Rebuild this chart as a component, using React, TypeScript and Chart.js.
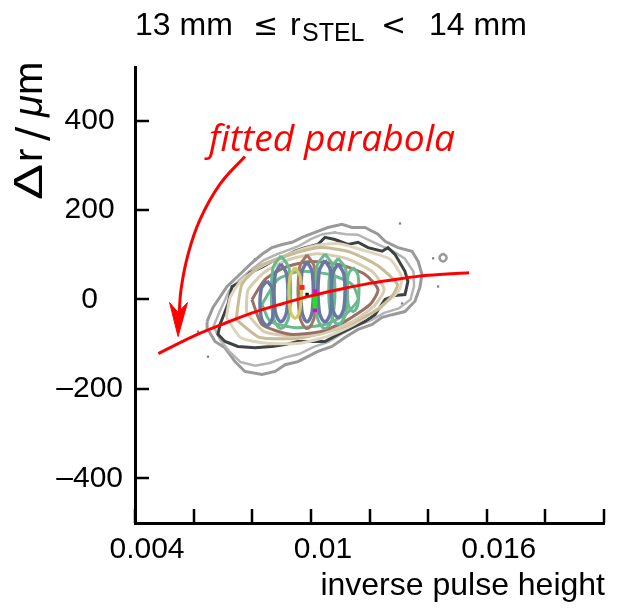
import React, { useEffect, useRef } from 'react';
import { Chart, registerables } from 'chart.js';

Chart.register(...registerables);

// ---- axis ranges & tick values ----
const xMin = 0.004;
const xMax = 0.02;
const xTickValues = [0.004, 0.006, 0.008, 0.01, 0.012, 0.014, 0.016, 0.018, 0.02];
const xTickLabels = [0.004, 0.01, 0.016];
const yMin = -500;
const yMax = 520;
const yTickValues = [-400, -200, 0, 200, 400];

// ---- fitted parabola ----
const parabolaX = [0.0048, 0.006, 0.007, 0.008, 0.009, 0.01, 0.011, 0.012, 0.013, 0.014, 0.0154];
const parabolaY = [-121, -82, -55, -30, -10, 8, 23, 36, 46, 54, 60];

// ---- annotation arrow ----
const arrowX = [0.00775, 0.0069, 0.00622, 0.00581, 0.00557, 0.0055];
const arrowY = [320, 258, 179, 101, 22, -45];
const arrowHead = [[0.00547, -83], [0.00518, -7], [0.00547, -29], [0.00579, -7]];
const annotationText = 'fitted parabola';
const annotationAnchor = [0.00652, 331];

// ---- contour levels ----
const outerGray = [[0.00646,-49],[0.00666,-18],[0.00714,29],[0.00751,52],[0.00792,78],[0.00833,101],[0.00867,116],[0.00902,123],[0.00936,128],[0.0097,139],[0.01014,150],[0.01058,161],[0.01106,168],[0.0114,161],[0.01185,161],[0.01229,146],[0.01253,130],[0.01297,116],[0.01345,108],[0.01366,85],[0.01379,56],[0.01372,27],[0.01355,-4],[0.01321,-27],[0.01277,-34],[0.01243,-40],[0.01209,-56],[0.01161,-67],[0.01116,-85],[0.01072,-105],[0.01024,-116],[0.00956,-139],[0.00912,-146],[0.00878,-161],[0.00833,-168],[0.00775,-161],[0.00741,-139],[0.00707,-108],[0.00673,-94],[0.00649,-67]];
const midGray = [[0.00668,-60],[0.0069,-25],[0.00722,20],[0.00758,45],[0.008,68],[0.0084,88],[0.0088,100],[0.0092,110],[0.0096,120],[0.01,135],[0.0104,146],[0.0108,150],[0.0112,146],[0.0116,145],[0.012,132],[0.0124,120],[0.0128,108],[0.0132,92],[0.0135,62],[0.01352,30],[0.0134,0],[0.013,-20],[0.0125,-30],[0.0121,-45],[0.0116,-58],[0.0111,-75],[0.0106,-95],[0.0101,-106],[0.0096,-122],[0.0091,-130],[0.0086,-142],[0.0081,-148],[0.0076,-140],[0.0072,-115],[0.0069,-90]];
const darkContour = [[0.0069,-56],[0.00717,-11],[0.00731,29],[0.00765,40],[0.00792,60],[0.00833,72],[0.00867,85],[0.00902,94],[0.00946,108],[0.0098,116],[0.01024,123],[0.01048,139],[0.01082,134],[0.01127,123],[0.01161,128],[0.01195,116],[0.01243,108],[0.01263,116],[0.01287,101],[0.01321,63],[0.01331,40],[0.01321,11],[0.01287,9],[0.01253,0],[0.01219,-34],[0.01185,-49],[0.0114,-63],[0.01093,-78],[0.01048,-94],[0.01004,-94],[0.00956,-94],[0.00912,-101],[0.00867,-105],[0.00809,-108],[0.00751,-105],[0.00707,-94],[0.00683,-78]];
const paleContour = [[0.00712,-40],[0.0076,-85],[0.0085,-98],[0.0096,-98],[0.0106,-82],[0.0115,-55],[0.0124,-15],[0.013,20],[0.0131,50],[0.0127,90],[0.0118,110],[0.0109,125],[0.01,118],[0.009,95],[0.0082,70],[0.0076,40],[0.00725,5]];
const tanContour = [[0.00745,-45],[0.00826,-85],[0.00963,-86],[0.01099,-64],[0.0123,-22],[0.0128,11],[0.01295,34],[0.0123,75],[0.01134,106],[0.01031,116],[0.00929,100],[0.00826,74],[0.00765,34]];
const beigeContour = [[0.0078,-30],[0.0084,-72],[0.0094,-82],[0.0104,-76],[0.0114,-50],[0.01215,-15],[0.0125,22],[0.0121,62],[0.0112,92],[0.0102,102],[0.0092,88],[0.0084,60],[0.00785,20]];
const brownContour = [[0.00799,0],[0.00833,-56],[0.00929,-78],[0.01031,-72],[0.01117,-49],[0.01202,-11],[0.01229,22],[0.01185,56],[0.01099,78],[0.00997,85],[0.00912,72],[0.00844,45]];
const greenContour = [[0.00833,-11],[0.00861,-49],[0.00946,-63],[0.01048,-56],[0.01117,-34],[0.01161,0],[0.0114,34],[0.01065,56],[0.00963,63],[0.00888,45]];
const blueLobes = [
  [[0.0085,42],[0.0087,22],[0.0087,-38],[0.0085,-58],[0.0083,-38],[0.0083,22]],
  [[0.00898,80],[0.00918,55],[0.00918,-25],[0.00898,-50],[0.00878,-25],[0.00878,55]],
  [[0.00987,85],[0.01005,60],[0.01005,-25],[0.00987,-50],[0.00969,-25],[0.00969,60]],
  [[0.01048,88],[0.01068,62],[0.01068,-25],[0.01048,-50],[0.01028,-25],[0.01028,62]],
  [[0.01093,80],[0.01113,55],[0.01113,-18],[0.01093,-40],[0.01073,-18],[0.01073,55]],
];
const greenLobes = [
  [[0.00898,98],[0.00926,68],[0.00926,-35],[0.00898,-65],[0.0087,-35],[0.0087,68]],
  [[0.01048,102],[0.01076,72],[0.01076,-35],[0.01048,-65],[0.0102,-35],[0.0102,72]],
  [[0.01093,92],[0.0112,65],[0.0112,-28],[0.01093,-55],[0.01066,-28],[0.01066,65]],
  [[0.01144,72],[0.01161,54],[0.01161,-9],[0.01144,-27],[0.01127,-9],[0.01127,54]],
];
const brownLobe = [[0.00987,100],[0.01013,70],[0.01013,-35],[0.00987,-65],[0.00961,-35],[0.00961,70]];
const yellowLobe = [[0.00946,72],[0.00964,50],[0.00964,-20],[0.00946,-42],[0.00928,-20],[0.00928,50]];
const grayRing = [[0.01451,103],[0.01463,94],[0.01451,85],[0.01439,94]];
const peakBar = [[0.01014, 12], [0.01014, -20]];
const peakMagenta = [[0.01014, 18], [0.01014, -24]];
const peakRed = [[0.0097, 27]];
const peakBlack = [[0.00987, 11]];
const strayX = [0.00615, 0.00649, 0.00809, 0.01082, 0.01304, 0.01417, 0.01434, 0.01311];
const strayY = [-72, -128, 90, 150, 170, 92, 29, -9];

const pts = (arr: number[][]) => arr.map(([x, y]) => ({ x, y }));
const closed = (arr: number[][]) => pts(arr.concat([arr[0]]));

const FONT = '"Liberation Sans", Arial, sans-serif';
const MATH = '"DejaVu Sans", sans-serif';

const decorPlugin = {
  id: 'decor',
  afterDraw(chart: any) {
    const { ctx, chartArea, scales } = chart;
    const xs = scales.x;
    const ys = scales.y;
    ctx.save();
    // inward tick marks
    ctx.strokeStyle = '#000';
    ctx.lineWidth = 2.5;
    xs.ticks.forEach((t: any) => {
      const px = Math.round(xs.getPixelForValue(t.value));
      ctx.beginPath();
      ctx.moveTo(px, chartArea.bottom);
      ctx.lineTo(px, chartArea.bottom - 14);
      ctx.stroke();
    });
    ys.ticks.forEach((t: any) => {
      const py = Math.round(ys.getPixelForValue(t.value));
      ctx.beginPath();
      ctx.moveTo(chartArea.left, py);
      ctx.lineTo(chartArea.left + 14, py);
      ctx.stroke();
    });

    ctx.fillStyle = '#000';
    ctx.textBaseline = 'alphabetic';
    ctx.textAlign = 'left';
    // title: 13 mm ≤ r_STEL < 14 mm
    ctx.font = `32px ${FONT}`;
    ctx.fillText('13 mm', 135, 35);
    ctx.font = `30px ${MATH}`;
    ctx.fillText('\u2264', 253, 35);
    ctx.font = `32px ${FONT}`;
    ctx.fillText('r', 290, 35);
    ctx.font = `25px ${FONT}`;
    ctx.fillText('STEL', 302, 41);
    ctx.font = `30px ${MATH}`;
    ctx.fillText('<', 381, 35);
    ctx.font = `32px ${FONT}`;
    ctx.fillText('14 mm', 429, 35);

    // x axis title
    ctx.textAlign = 'right';
    ctx.font = `32px ${FONT}`;
    ctx.fillText('inverse pulse height', 605, 595);

    // y axis title (rotated)
    ctx.save();
    ctx.translate(42, 200);
    ctx.rotate(-Math.PI / 2);
    ctx.textAlign = 'left';
    ctx.font = `40px ${FONT}`;
    ctx.save();
    ctx.scale(1.35, 1);
    ctx.fillText('\u0394', 0, 0);
    ctx.restore();
    ctx.fillText('r', 38, 0);
    ctx.font = `42px ${MATH}`;
    ctx.fillText('/', 59, 4);
    ctx.font = `italic 40px ${FONT}`;
    ctx.fillText('\u03bc', 83, 0);
    const mw = ctx.measureText('\u03bc').width;
    ctx.font = `40px ${FONT}`;
    ctx.fillText('m', 83 + mw, 0);
    ctx.restore();

    // annotation text
    ctx.textAlign = 'left';
    ctx.fillStyle = '#ff0000';
    ctx.font = `italic 30px "Open Sans", sans-serif`;
    const w = ctx.measureText(annotationText).width;
    const size = (30 * 246) / w;
    ctx.font = `italic ${size.toFixed(1)}px "Open Sans", sans-serif`;
    ctx.fillText(
      annotationText,
      xs.getPixelForValue(annotationAnchor[0]),
      ys.getPixelForValue(annotationAnchor[1])
    );
    ctx.restore();
  },
};

const lineDs = (data: any[], color: string, width: number, order: number, tension = 0) => ({
  data,
  showLine: true,
  borderColor: color,
  backgroundColor: color,
  borderWidth: width,
  pointRadius: 0,
  tension,
  fill: false,
  order,
});

const dotDs = (data: any[], color: string, r: number, order: number) => ({
  data,
  showLine: false,
  pointRadius: r,
  pointStyle: 'rect',
  backgroundColor: color,
  borderWidth: 0,
  order,
});

export default function App() {
  const ref = useRef<HTMLCanvasElement>(null);
  useEffect(() => {
    const datasets: any[] = [];
    datasets.push({
      ...lineDs(parabolaX.map((x, i) => ({ x, y: parabolaY[i] })), '#ff0000', 3, 0),
      cubicInterpolationMode: 'monotone',
    });
    datasets.push(lineDs(arrowX.map((x, i) => ({ x, y: arrowY[i] })), '#ff0000', 3, 1, 0.4));
    datasets.push({ ...lineDs(closed(arrowHead), '#ff0000', 1, 1), fill: 'shape', backgroundColor: '#ff0000' });
    datasets.push(lineDs(pts(peakBar), '#22e022', 5, 2));
    datasets.push(dotDs(pts(peakMagenta), '#ee00cc', 3, 2));
    datasets.push(dotDs(pts(peakRed), '#ff2020', 3.5, 2));
    datasets.push(dotDs(pts(peakBlack), '#102010', 2.5, 2));
    datasets.push(lineDs(closed(yellowLobe), '#d8c860', 3, 3, 0.4));
    blueLobes.forEach((l) => datasets.push(lineDs(closed(l), '#6878a0', 3.5, 3, 0.4)));
    greenLobes.forEach((l) => datasets.push(lineDs(closed(l), '#6ab890', 3, 4, 0.4)));
    datasets.push(lineDs(closed(brownLobe), '#a07868', 3, 4, 0.4));
    datasets.push(lineDs(closed(greenContour), '#6ab890', 3, 5, 0.2));
    datasets.push(lineDs(closed(brownContour), '#9a7062', 3, 6, 0.2));
    datasets.push(lineDs(closed(beigeContour), '#d9ccb0', 3, 6, 0.2));
    datasets.push(lineDs(closed(tanContour), '#c8bb98', 3, 7, 0.2));
    datasets.push(lineDs(closed(paleContour), '#ddd5bd', 3, 7, 0.2));
    datasets.push(lineDs(closed(darkContour), '#3d4343', 3, 8));
    datasets.push(lineDs(closed(midGray), '#b4b4b4', 2.5, 9));
    datasets.push(lineDs(closed(outerGray), '#9a9a9a', 3, 9));
    datasets.push(lineDs(closed(grayRing), '#9a9a9a', 2.5, 9, 0.5));
    datasets.push(dotDs(strayX.map((x, i) => ({ x, y: strayY[i] })), '#808080', 1.6, 10));

    const chart = new Chart(ref.current as HTMLCanvasElement, {
      type: 'scatter',
      data: { datasets },
      plugins: [decorPlugin],
      options: {
        responsive: false,
        animation: false,
        devicePixelRatio: 1,
        events: [],
        layout: { padding: { top: 67, right: 13, left: 0, bottom: 0 } },
        plugins: { legend: { display: false }, tooltip: { enabled: false }, title: { display: false } },
        scales: {
          x: {
            type: 'linear',
            min: xMin,
            max: xMax,
            afterBuildTicks: (s: any) => { s.ticks = xTickValues.map((v) => ({ value: v })); },
            afterFit: (s: any) => { s.height = 87; },
            grid: { display: false, drawTicks: false },
            border: { display: true, color: '#000', width: 3 },
            ticks: {
              autoSkip: false,
              maxRotation: 0,
              padding: 9,
              labelOffset: 12,
              color: '#000',
              font: { family: FONT, size: 30 },
              callback: (v: any) => {
                const k = Math.round(Number(v) * 1e4);
                const m = xTickLabels.find((l) => Math.round(l * 1e4) === k);
                return m !== undefined ? String(m) : '';
              },
            },
          },
          y: {
            type: 'linear',
            min: yMin,
            max: yMax,
            afterBuildTicks: (s: any) => { s.ticks = yTickValues.map((v) => ({ value: v })); },
            afterFit: (s: any) => { s.width = 135; },
            grid: { display: false, drawTicks: false },
            border: { display: true, color: '#000', width: 3 },
            ticks: {
              autoSkip: false,
              padding: 12,
              crossAlign: 'center',
              color: '#000',
              font: { family: FONT, size: 30 },
              callback: (v: any) => (Number(v) < 0 ? '\u2013' + Math.abs(Number(v)) : String(v)),
            },
          },
        },
      } as any,
    });
    return () => chart.destroy();
  }, []);
  return (
    <div style={{ position: 'absolute', left: 0, top: 0, width: 617, height: 610 }}>
      <canvas ref={ref} width={617} height={610} style={{ display: 'block', width: 617, height: 610 }} />
    </div>
  );
}
